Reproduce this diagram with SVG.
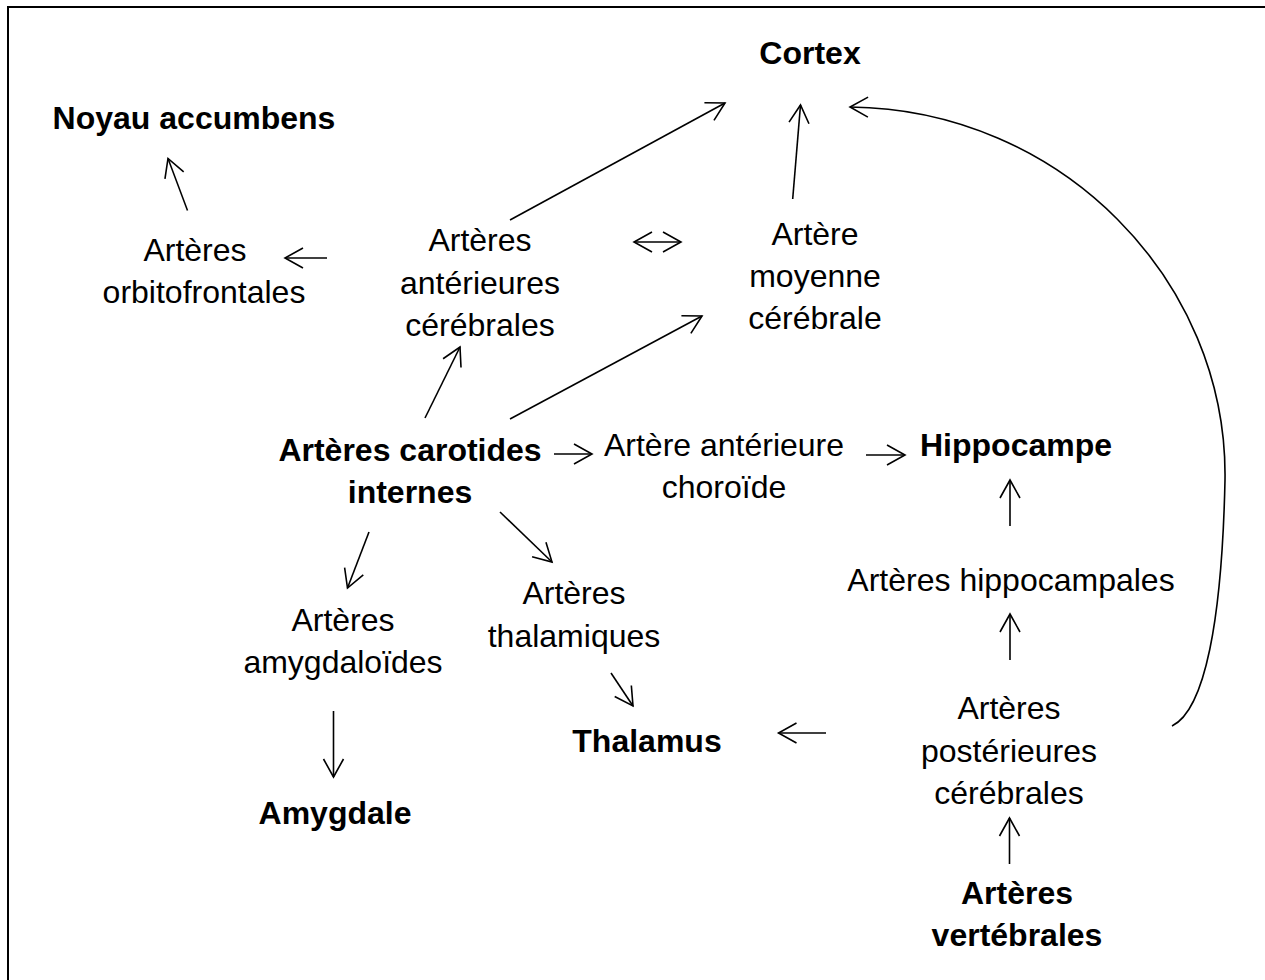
<svg xmlns="http://www.w3.org/2000/svg" width="1265" height="980" viewBox="0 0 1265 980">
<style>
text{font-family:"Liberation Sans",Arial,sans-serif;font-size:32px;fill:#000;text-anchor:middle}
.b{font-weight:bold}
.c{fill:none;stroke:#000;stroke-width:1.6}
</style>
<defs>
<marker id="ah" markerUnits="userSpaceOnUse" markerWidth="40" markerHeight="40" viewBox="-25 -20 40 40" refX="0" refY="0" orient="auto-start-reverse">
<path d="M-18,-10 L0,0 L-18,10" fill="none" stroke="#000" stroke-width="1.6"/>
</marker>
</defs>
<rect width="1265" height="980" fill="#fff"/>
<rect x="8" y="7" width="1300" height="1000" fill="none" stroke="#000" stroke-width="2"/>
<g id="cortex"><text class="b" x="810" y="64">Cortex</text></g>
<g id="noyau"><text class="b" x="194" y="129">Noyau accumbens</text></g>
<g id="orbito"><text x="195" y="261">Artères</text><text x="204" y="303">orbitofrontales</text></g>
<g id="anterieures"><text x="480" y="251">Artères</text><text x="480" y="294">antérieures</text><text x="480" y="336">cérébrales</text></g>
<g id="moyenne"><text x="815" y="245">Artère</text><text x="815" y="287">moyenne</text><text x="815" y="329">cérébrale</text></g>
<g id="carotides"><text class="b" x="410" y="461">Artères carotides</text><text class="b" x="410" y="503">internes</text></g>
<g id="choroide"><text x="724" y="456">Artère antérieure</text><text x="724" y="498">choroïde</text></g>
<g id="hippocampe"><text class="b" x="1016" y="456">Hippocampe</text></g>
<g id="hippocampales"><text x="1011" y="591">Artères hippocampales</text></g>
<g id="thalamiques"><text x="574" y="604">Artères</text><text x="574" y="647">thalamiques</text></g>
<g id="amygdaloides"><text x="343" y="631">Artères</text><text x="343" y="673">amygdaloïdes</text></g>
<g id="thalamus"><text class="b" x="647" y="752">Thalamus</text></g>
<g id="amygdale"><text class="b" x="335" y="824">Amygdale</text></g>
<g id="posterieures"><text x="1009" y="719">Artères</text><text x="1009" y="762">postérieures</text><text x="1009" y="804">cérébrales</text></g>
<g id="vertebrales"><text class="b" x="1017" y="904">Artères</text><text class="b" x="1017" y="946">vertébrales</text></g>
<g id="connectors">
<path class="c" marker-end="url(#ah)" d="M187.5,210.5 L168,158.5"/>
<path class="c" marker-end="url(#ah)" d="M327,258 L285,258"/>
<path class="c" marker-end="url(#ah)" d="M510,220 L725,103"/>
<path class="c" marker-start="url(#ah)" marker-end="url(#ah)" d="M634,242 L681,242"/>
<path class="c" marker-end="url(#ah)" d="M792.7,199 L800.5,105"/>
<path class="c" marker-end="url(#ah)" d="M1172,726 C1205,710 1222,620 1225,480 C1228,280 1060,109 850,107"/>
<path class="c" marker-end="url(#ah)" d="M425,418 L460,347"/>
<path class="c" marker-end="url(#ah)" d="M510,419 L702,316"/>
<path class="c" marker-end="url(#ah)" d="M554,454 L592,454"/>
<path class="c" marker-end="url(#ah)" d="M866,455 L905,455"/>
<path class="c" marker-end="url(#ah)" d="M1010,526 L1010,480"/>
<path class="c" marker-end="url(#ah)" d="M1010,660 L1010,614"/>
<path class="c" marker-end="url(#ah)" d="M826,733 L778.5,733"/>
<path class="c" marker-end="url(#ah)" d="M1009.5,864 L1009.5,818"/>
<path class="c" marker-end="url(#ah)" d="M369,532 L347.5,588"/>
<path class="c" marker-end="url(#ah)" d="M500,512 L552,562"/>
<path class="c" marker-end="url(#ah)" d="M611,673 L633,706"/>
<path class="c" marker-end="url(#ah)" d="M333.5,711 L333.5,777"/>
</g>
</svg>
